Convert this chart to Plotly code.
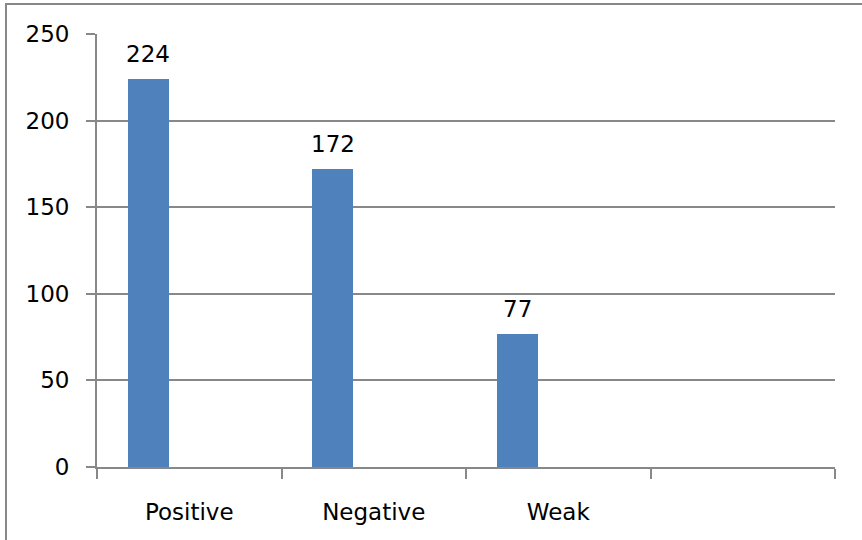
import plotly.graph_objects as go

categories = ["Positive", "Negative", "Weak"]
values = [224, 172, 77]
empty_slot = [" "]
y_ticks = [0, 50, 100, 150, 200, 250]

BAR_W = 1 / 4.5          # Excel-like clustered slot: 3 series, gap 150%
BAR_OFFSET = -1.5 * BAR_W
CENTER = BAR_OFFSET + BAR_W / 2

GRID = "#888888"
FONT = dict(family="DejaVu Sans", size=23, color="#000000")

fig = go.Figure()
fig.add_trace(go.Bar(
    x=categories, y=values,
    width=BAR_W, offset=BAR_OFFSET,
    marker=dict(color="#4F81BD", line=dict(width=0)),
    hoverinfo="x+y",
))

for i, v in enumerate(values):
    fig.add_annotation(x=i + CENTER, y=v, text=str(v), showarrow=False,
                       yanchor="bottom", yshift=10, font=FONT)

fig.update_layout(
    width=862, height=540,
    margin=dict(l=97, r=27, t=34, b=73),
    paper_bgcolor="white", plot_bgcolor="white",
    showlegend=False, bargap=0,
    font=FONT,
    xaxis=dict(
        type="category", categoryorder="array",
        categoryarray=categories + empty_slot,
        range=[-0.5, len(categories) + len(empty_slot) - 0.5],
        tickson="boundaries", ticks="outside", ticklen=10, tickwidth=1.8,
        tickcolor=GRID, showline=True, linecolor=GRID, linewidth=1.8,
        showgrid=False, ticklabelstandoff=23,
    ),
    yaxis=dict(
        range=[0, 250], tickvals=y_ticks, ticks="outside", ticklen=9,
        tickwidth=1.8, tickcolor=GRID, showline=True, linecolor=GRID,
        linewidth=1.8, showgrid=True, gridcolor=GRID, gridwidth=1.8,
        zeroline=False, ticklabelstandoff=12,
    ),
    shapes=[dict(type="rect", xref="paper", yref="paper",
                 x0=(6 - 97) / 738, x1=(875 - 97) / 738,
                 y0=(467 - 560) / 433, y1=(467 - 4) / 433,
                 line=dict(color=GRID, width=2), fillcolor="rgba(0,0,0,0)",
                 layer="below")],
)

fig.write_html("out.html")
